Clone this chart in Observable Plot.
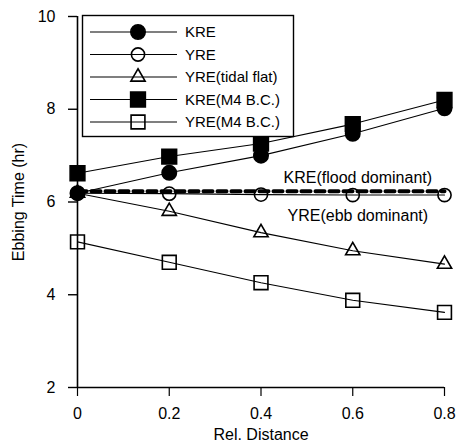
<!DOCTYPE html>
<html>
<head>
<meta charset="utf-8">
<script src="https://cdn.jsdelivr.net/npm/d3@7"></script>
<script src="https://cdn.jsdelivr.net/npm/@observablehq/plot@0.6"></script>
<style>
  html, body { margin: 0; padding: 0; background: #fff; }
  #wrap { position: relative; width: 462px; height: 447px; font-family: "Liberation Sans", Arial, sans-serif; }
  #legend { position: absolute; left: 0; top: 0; }
</style>
</head>
<body>
<div id="wrap"></div>
<script>
// ---- data ----
const distance = [0, 0.2, 0.4, 0.6, 0.8];
const kre       = [6.19, 6.63, 7.00, 7.47, 8.02];
const yre       = [6.19, 6.18, 6.16, 6.15, 6.15];
const yreTidal  = [6.19, 5.80, 5.34, 4.95, 4.66];
const kreM4     = [6.62, 6.98, 7.26, 7.68, 8.20];
const yreM4     = [5.14, 4.70, 4.26, 3.88, 3.62];
const seriesNames = ["KRE", "YRE", "YRE(tidal flat)", "KRE(M4 B.C.)", "YRE(M4 B.C.)"];
const floodX = [0, 0.8];
const floodY = [6.23, 6.23];
const noteText = ["KRE(flood dominant)", "YRE(ebb dominant)"];
const noteX = [0.611, 0.611];
const noteY = [6.53, 5.71];
const yTicks = [2, 4, 6, 8, 10];
const xTicks = [0, 0.2, 0.4, 0.6, 0.8];

// ---- styles ----
const styles = {
  "KRE":             {symbol: "circle",   fill: "black", stroke: "black", r: 7.2},
  "YRE":             {symbol: "circle",   fill: "none",  stroke: "black", r: 6.6},
  "YRE(tidal flat)": {symbol: "triangle", fill: "none",  stroke: "black", r: 5.3},
  "KRE(M4 B.C.)":    {symbol: "square",   fill: "black", stroke: "black", r: 8.3},
  "YRE(M4 B.C.)":    {symbol: "square",   fill: "none",  stroke: "black", r: 7.8}
};
const allValues = [kre, yre, yreTidal, kreM4, yreM4];
const rows = [];
seriesNames.forEach((name, i) => {
  distance.forEach((d, j) => rows.push({series: name, x: d, y: allValues[i][j]}));
});
const flood = floodX.map((x, i) => ({x, y: floodY[i]}));
const notes = noteText.map((t, i) => ({t, x: noteX[i], y: noteY[i]}));

const marks = [
  Plot.ruleX([0], {stroke: "black", strokeWidth: 1.6}),
  Plot.ruleY([2], {stroke: "black", strokeWidth: 1.6}),
  Plot.axisY({ticks: yTicks, tickSize: 9, tickPadding: 13, fontSize: 16, label: null, strokeWidth: 1.4}),
  Plot.axisX({ticks: xTicks, tickSize: 9, tickPadding: 11, fontSize: 16, label: null, tickFormat: d => String(+d.toFixed(1)), strokeWidth: 1.2}),
  Plot.text(["Rel. Distance"], {frameAnchor: "bottom", dy: 47, fontSize: 16, textAnchor: "middle", lineAnchor: "middle"}),
  Plot.text(["Ebbing Time (hr)"], {frameAnchor: "left", rotate: -90, dx: -59, fontSize: 16, textAnchor: "middle", lineAnchor: "middle"})
];
seriesNames.forEach(name => {
  const data = rows.filter(r => r.series === name);
  marks.push(Plot.line(data, {x: "x", y: "y", stroke: "black", strokeWidth: 1.1}));
});
marks.push(Plot.line(flood, {x: "x", y: "y", stroke: "black", strokeWidth: 4, strokeDasharray: "9,5"}));
seriesNames.forEach(name => {
  const s = styles[name];
  const data = rows.filter(r => r.series === name);
  marks.push(Plot.dot(data, {x: "x", y: "y", symbol: () => s.symbol, r: s.r, fill: s.fill, stroke: s.stroke, strokeWidth: 1.6}));
});
marks.push(Plot.text(notes, {x: "x", y: "y", text: "t", fontSize: 16}));

const chart = Plot.plot({
  width: 462,
  height: 447,
  marginLeft: 77,
  marginRight: 18,
  marginTop: 16,
  marginBottom: 60,
  style: {fontFamily: "'Liberation Sans', Arial, sans-serif", color: "black", background: "white"},
  x: {domain: [0, 0.8]},
  y: {domain: [2, 10]},
  symbol: {type: "identity"},
  marks
});
document.getElementById("wrap").appendChild(chart);

// ---- legend (overlay) ----
const lg = d3.select("#wrap").append("svg")
  .attr("id", "legend").attr("width", 462).attr("height", 447)
  .style("pointer-events", "none");
lg.append("rect").attr("x", 82.5).attr("y", 15.5).attr("width", 211).attr("height", 121)
  .attr("fill", "white").attr("stroke", "black").attr("stroke-width", 1.4);
seriesNames.forEach((name, i) => {
  const s = styles[name];
  const cy = 32 + i * 22.5;
  lg.append("line").attr("x1", 90).attr("x2", 177).attr("y1", cy).attr("y2", cy)
    .attr("stroke", "black").attr("stroke-width", 1.1);
  const sym = s.symbol === "circle" ? d3.symbolCircle : s.symbol === "square" ? d3.symbolSquare : d3.symbolTriangle;
  lg.append("path").attr("d", d3.symbol(sym, Math.PI * s.r * s.r)())
    .attr("transform", `translate(138,${cy})`)
    .attr("fill", s.fill).attr("stroke", s.stroke).attr("stroke-width", 1.6);
  lg.append("text").attr("x", 185).attr("y", cy).attr("dy", "0.35em")
    .attr("font-size", 15).attr("font-family", "'Liberation Sans', Arial, sans-serif")
    .text(name);
});
</script>
</body>
</html>
